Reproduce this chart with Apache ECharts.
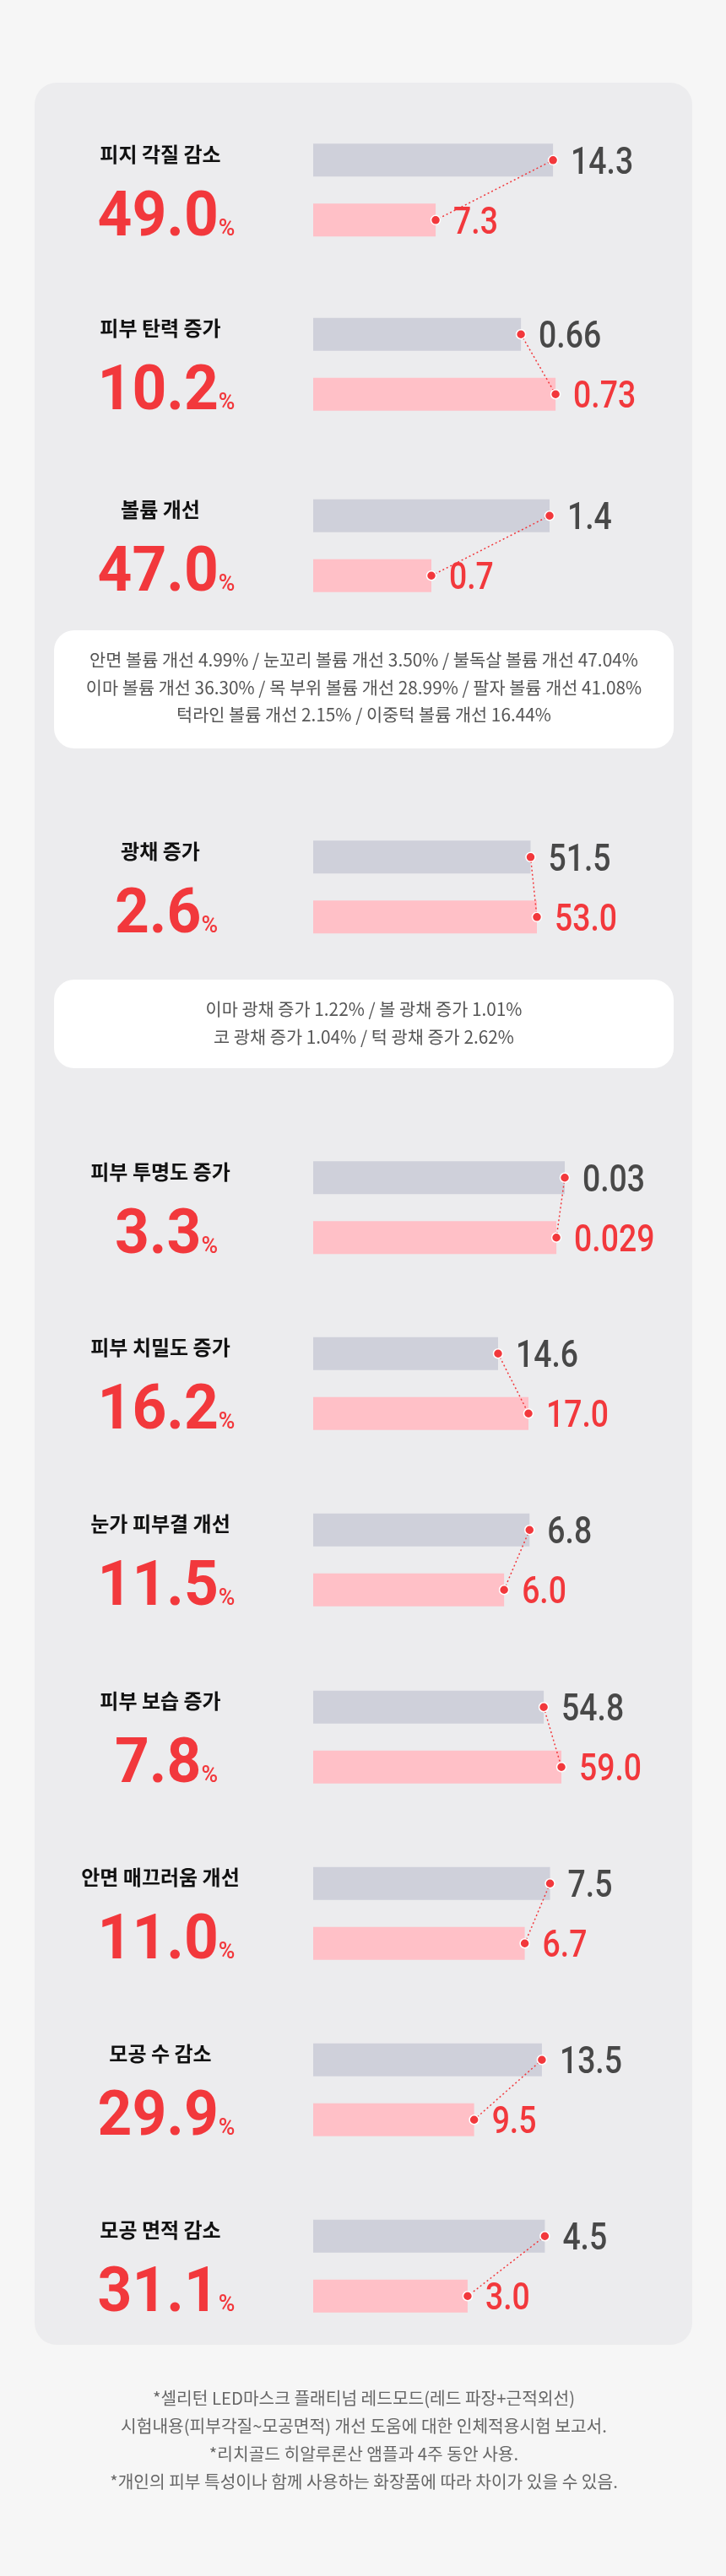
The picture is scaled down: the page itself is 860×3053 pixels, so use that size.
<!DOCTYPE html>
<html>
<head>
<meta charset="utf-8">
<script src="https://cdn.jsdelivr.net/npm/echarts@6/dist/echarts.min.js"></script>
<style>
html,body{margin:0;padding:0;background:#f6f6f6;}
#c{width:860px;height:3053px;}
</style>
</head>
<body>
<div id="c"></div>
<script>
// ---------- data ----------
const titles = ['피지 각질 감소','피부 탄력 증가','볼륨 개선','광채 증가','피부 투명도 증가','피부 치밀도 증가','눈가 피부결 개선','피부 보습 증가','안면 매끄러움 개선','모공 수 감소','모공 면적 감소'];
const changePct = ['49.0','10.2','47.0','2.6','3.3','16.2','11.5','7.8','11.0','29.9','31.1'];
const beforeVals = ['14.3','0.66','1.4','51.5','0.03','14.6','6.8','54.8','7.5','13.5','4.5'];
const afterVals = ['7.3','0.73','0.7','53.0','0.029','17.0','6.0','59.0','6.7','9.5','3.0'];
const volumeNotes = [
  '안면 볼륨 개선 4.99% / 눈꼬리 볼륨 개선 3.50% / 불독살 볼륨 개선 47.04%',
  '이마 볼륨 개선 36.30% / 목 부위 볼륨 개선 28.99% / 팔자 볼륨 개선 41.08%',
  '턱라인 볼륨 개선 2.15% / 이중턱 볼륨 개선 16.44%'
];
const glowNotes = [
  '이마 광채 증가 1.22% / 볼 광채 증가 1.01%',
  '코 광채 증가 1.04% / 턱 광채 증가 2.62%'
];
const footnotes = [
  '*셀리턴 LED마스크 플래티넘 레드모드(레드 파장+근적외선)',
  '시험내용(피부각질~모공면적) 개선 도움에 대한 인체적용시험 보고서.',
  '*리치골드 히알루론산 앰플과 4주 동안 사용.',
  '*개인의 피부 특성이나 함께 사용하는 화장품에 따라 차이가 있을 수 있음.'
];

// ---------- layout (not data) ----------
const groupTop = [170.6, 377, 592, 996.6, 1376.5, 1585, 1794, 2004, 2213, 2422, 2631];
const axisMin = [0, 0.24, 0, 0, 0, 0, 0, 0, 0, 0, 0];
const axisMax = [15.1, 0.752, 1.5, 60, 0.0302, 20, 7.96, 60.2, 8.02, 14.95, 4.92];

const RED = '#f2383c', PINK = '#ffc0c7', GRAY = '#cfd0da', DARK = '#484848';
const CJK = "'Noto Sans CJK KR', 'Noto Sans', sans-serif";
const NUM = "Roboto, 'Liberation Sans', sans-serif";
const GL = 371, GW = 300;

const grids = [], xAxes = [], yAxes = [], series = [], graphics = [];

graphics.push({type:'rect', z:0, shape:{x:41, y:98, width:779, height:2681, r:26}, style:{fill:'#ececee'}, silent:true});
graphics.push({type:'rect', z:0, shape:{x:64, y:747, width:734, height:140, r:24}, style:{fill:'#ffffff'}, silent:true});
graphics.push({type:'rect', z:0, shape:{x:64, y:1161, width:734, height:105, r:24}, style:{fill:'#ffffff'}, silent:true});

titles.forEach((t, i) => {
  const T = groupTop[i];
  grids.push({left: GL, width: GW, top: T - 16.25, height: 142});
  xAxes.push({type:'value', gridIndex:i, min: axisMin[i], max: axisMax[i], show:false});
  yAxes.push({type:'category', gridIndex:i, data:['before','after'], inverse:true, show:false});
  const b = parseFloat(beforeVals[i]), a = parseFloat(afterVals[i]);
  const texts = [beforeVals[i], afterVals[i]];
  series.push({
    type:'bar', xAxisIndex:i, yAxisIndex:i, barWidth:39, silent:true, z:2,
    data:[
      {value:b, itemStyle:{color:GRAY}},
      {value:a, itemStyle:{color:PINK}}
    ]
  });
  series.push({
    type:'line', xAxisIndex:i, yAxisIndex:i, silent:true, z:3,
    data:[[b, 0], [a, 1]],
    symbol:'circle', symbolSize:11,
    itemStyle:{color:RED, borderColor:'#ffffff', borderWidth:1.5},
    lineStyle:{color:RED, width:1.5, type:[2,3]}
  });
  // value labels placed through the axis scales
  series.push({
    type:'custom', xAxisIndex:i, yAxisIndex:i, silent:true, z:4,
    encode:{x:0, y:1},
    data:[[b, 0], [a, 1]],
    renderItem: (params, api) => {
      const p = api.coord([api.value(0), api.value(1)]);
      const k = params.dataIndex;
      return {type:'text', x: p[0] + 21, y: p[1] + 4.5, scaleX: 0.83,
        style:{text: texts[k], fill: k === 0 ? DARK : RED,
          font: '500 45px ' + NUM, align:'left', verticalAlign:'middle'}};
    }
  });
  graphics.push({type:'text', z:10, silent:true, style:{
    text:t, x:190, y:T + 12, align:'center', verticalAlign:'middle',
    fill:'#111111', font:'bold 24px ' + CJK
  }});
  graphics.push({type:'text', z:10, silent:true, x:197, y:T + 127, scaleX:0.95, style:{
    text:'{n|' + changePct[i] + '}{p|%}', x:0, y:0, align:'center', verticalAlign:'bottom',
    rich:{
      n:{fill:RED, fontSize:75, fontWeight:'bold', fontFamily:NUM, lineHeight:75, verticalAlign:'bottom'},
      p:{fill:RED, fontSize:28, fontWeight:'500', fontFamily:NUM, lineHeight:28, verticalAlign:'bottom', padding:[0,0,12,0]}
    }
  }});
});

graphics.push({type:'text', z:10, silent:true, style:{
  text: volumeNotes.join('\n'), x:431, y:815, align:'center', verticalAlign:'middle',
  fill:'#555555', fontSize:20.8, fontFamily:CJK, lineHeight:32.5
}});
graphics.push({type:'text', z:10, silent:true, style:{
  text: glowNotes.join('\n'), x:431, y:1212.5, align:'center', verticalAlign:'middle',
  fill:'#555555', fontSize:20.8, fontFamily:CJK, lineHeight:33
}});
graphics.push({type:'text', z:10, silent:true, style:{
  text: footnotes.join('\n'), x:431, y:2892, align:'center', verticalAlign:'middle',
  fill:'#666666', fontSize:20.3, fontFamily:CJK, lineHeight:33
}});

const chart = echarts.init(document.getElementById('c'));
chart.setOption({
  animation:false,
  backgroundColor:'#f6f6f6',
  grid: grids, xAxis: xAxes, yAxis: yAxes, series: series,
  graphic: {elements: graphics}
});
</script>
</body>
</html>
